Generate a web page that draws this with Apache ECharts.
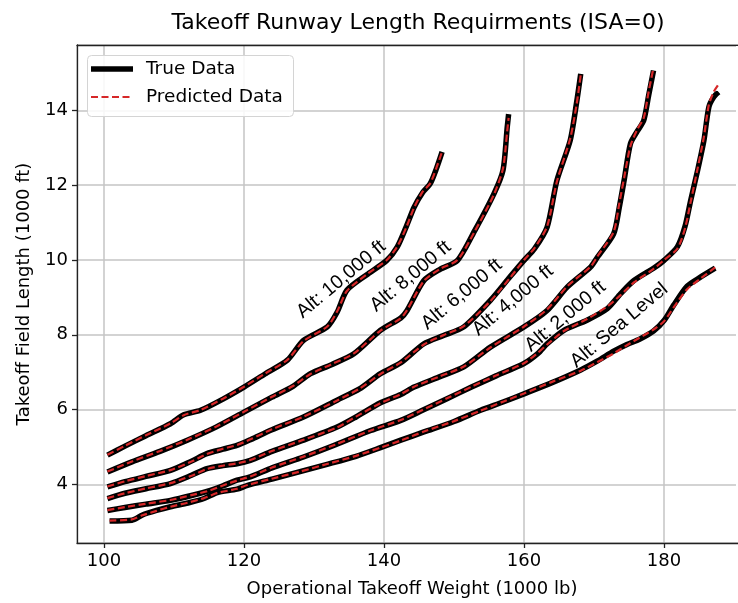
<!DOCTYPE html>
<html>
<head>
<meta charset="utf-8">
<script src="https://cdn.jsdelivr.net/npm/echarts@6/dist/echarts.min.js"></script>
<style>
  html, body { margin: 0; padding: 0; background: #fff; overflow: hidden; }
  #chart { width: 738px; height: 603px; }
</style>
</head>
<body>
<div id="chart"></div>
<script>
// Takeoff field length (1000 ft) against operational takeoff weight (1000 lb), ISA = 0

// Sea level
const seaX = [100.8, 104.0, 105.5, 107.5, 109.5, 112.0, 114.3, 116.2, 119.0, 120.5, 124.0, 128.0, 132.0, 136.0, 139.5, 142.4, 145.7, 150.0, 153.8, 157.0, 160.0, 164.0, 168.1, 170.5, 172.8, 174.7, 176.5, 178.5, 180.0, 181.4, 183.3, 185.2, 187.3];
const seaTrue = [3.02, 3.04, 3.18, 3.30, 3.40, 3.50, 3.62, 3.78, 3.87, 3.97, 4.14, 4.34, 4.54, 4.75, 4.98, 5.18, 5.40, 5.68, 5.98, 6.20, 6.42, 6.72, 7.06, 7.30, 7.56, 7.74, 7.88, 8.10, 8.38, 8.80, 9.30, 9.54, 9.78];
const seaPred = [3.03, 3.06, 3.17, 3.29, 3.40, 3.51, 3.63, 3.77, 3.88, 3.98, 4.15, 4.34, 4.55, 4.76, 4.98, 5.17, 5.41, 5.69, 5.97, 6.21, 6.43, 6.74, 7.04, 7.27, 7.50, 7.72, 7.92, 8.14, 8.36, 8.74, 9.22, 9.50, 9.80];

// 2,000 ft
const alt2X = [100.5, 103.0, 106.0, 109.5, 112.5, 115.2, 117.0, 119.0, 120.9, 124.0, 128.5, 133.0, 138.1, 142.4, 145.5, 149.0, 152.5, 156.0, 160.0, 162.0, 163.3, 165.7, 169.0, 171.9, 173.8, 175.7, 178.5, 180.0, 181.9, 183.0, 183.8, 184.8, 185.7, 186.4, 187.1, 187.8];
const alt2True = [3.30, 3.38, 3.47, 3.57, 3.70, 3.84, 3.96, 4.11, 4.20, 4.44, 4.73, 5.05, 5.44, 5.71, 5.98, 6.29, 6.60, 6.90, 7.23, 7.50, 7.76, 8.12, 8.39, 8.70, 9.10, 9.45, 9.78, 9.99, 10.35, 10.90, 11.59, 12.40, 13.20, 14.09, 14.36, 14.49];
const alt2Pred = [3.31, 3.39, 3.48, 3.58, 3.71, 3.84, 3.97, 4.10, 4.21, 4.45, 4.74, 5.06, 5.44, 5.72, 5.99, 6.30, 6.61, 6.91, 7.24, 7.52, 7.74, 8.10, 8.42, 8.76, 9.06, 9.40, 9.76, 10.00, 10.30, 10.85, 11.55, 12.45, 13.30, 14.15, 14.50, 14.70];

// 4,000 ft
const alt4X = [100.5, 103.0, 106.0, 109.5, 112.5, 114.7, 117.0, 119.0, 120.9, 124.0, 128.5, 133.3, 136.0, 139.5, 142.4, 144.3, 148.0, 151.4, 155.2, 160.0, 163.3, 166.2, 169.5, 170.5, 172.8, 173.6, 174.3, 175.2, 176.2, 177.1, 177.8, 178.5];
const alt4True = [3.62, 3.76, 3.88, 4.02, 4.24, 4.42, 4.50, 4.55, 4.64, 4.88, 5.18, 5.53, 5.80, 6.18, 6.40, 6.60, 6.88, 7.14, 7.67, 8.21, 8.65, 9.28, 9.81, 10.08, 10.70, 11.40, 12.13, 13.11, 13.45, 13.73, 14.40, 15.07];
const alt4Pred = [3.63, 3.76, 3.89, 4.03, 4.23, 4.41, 4.50, 4.56, 4.65, 4.89, 5.19, 5.52, 5.81, 6.17, 6.41, 6.61, 6.89, 7.15, 7.66, 8.22, 8.68, 9.30, 9.82, 10.10, 10.75, 11.50, 12.20, 13.05, 13.50, 13.80, 14.50, 15.15];

// 6,000 ft
const alt6X = [100.5, 103.0, 106.0, 109.5, 112.5, 114.7, 117.0, 119.0, 121.0, 124.0, 128.5, 133.3, 136.5, 139.5, 142.4, 145.7, 148.5, 151.4, 155.2, 158.0, 160.0, 161.5, 163.3, 164.7, 166.6, 167.5, 168.1];
const alt6True = [3.93, 4.07, 4.21, 4.37, 4.62, 4.82, 4.94, 5.04, 5.20, 5.46, 5.80, 6.25, 6.55, 6.96, 7.25, 7.76, 7.98, 8.21, 8.92, 9.55, 9.99, 10.30, 10.88, 12.13, 13.20, 14.20, 14.98];
const alt6Pred = [3.94, 4.08, 4.22, 4.38, 4.61, 4.81, 4.95, 5.05, 5.21, 5.47, 5.81, 6.24, 6.56, 6.95, 7.26, 7.74, 7.99, 8.23, 8.90, 9.52, 10.00, 10.32, 10.90, 12.10, 13.25, 14.15, 14.95];

// 8,000 ft
const alt8X = [100.5, 104.0, 108.0, 111.9, 116.0, 120.0, 124.0, 127.0, 129.5, 132.5, 135.7, 139.5, 142.4, 143.3, 145.7, 148.0, 150.5, 153.0, 155.7, 157.0, 157.6, 157.8];
const alt8True = [4.33, 4.60, 4.88, 5.18, 5.53, 5.93, 6.33, 6.62, 6.96, 7.20, 7.49, 8.12, 8.45, 8.65, 9.45, 9.75, 9.99, 10.80, 11.77, 12.40, 13.55, 13.90];
const alt8Pred = [4.34, 4.61, 4.89, 5.19, 5.54, 5.94, 6.34, 6.63, 6.95, 7.21, 7.50, 8.11, 8.44, 8.66, 9.44, 9.76, 10.00, 10.78, 11.75, 12.45, 13.45, 13.80];

// 10,000 ft
const alt10X = [100.5, 103.0, 106.0, 109.5, 111.4, 113.8, 117.0, 120.0, 123.0, 126.2, 128.5, 131.9, 133.3, 134.7, 137.5, 140.4, 141.9, 143.2, 144.3, 145.5, 146.6, 147.5, 148.3];
const alt10True = [4.78, 5.02, 5.30, 5.62, 5.86, 5.98, 6.28, 6.60, 6.95, 7.32, 7.85, 8.21, 8.60, 9.19, 9.60, 9.99, 10.35, 10.90, 11.41, 11.80, 12.04, 12.45, 12.89];
const alt10Pred = [4.79, 5.03, 5.31, 5.63, 5.85, 5.99, 6.29, 6.61, 6.96, 7.33, 7.83, 8.22, 8.62, 9.17, 9.61, 10.00, 10.36, 10.88, 11.40, 11.82, 12.05, 12.47, 12.90];

// Curve annotations: text and anchor point (weight, field length)
const altLabels = ['Alt: 10,000 ft', 'Alt: 8,000 ft', 'Alt: 6,000 ft', 'Alt: 4,000 ft', 'Alt: 2,000 ft', 'Alt: Sea Level'];
const labelX = [133.9, 143.8, 151.1, 158.4, 165.9, 173.6];
const labelY = [9.48, 9.56, 9.08, 8.92, 8.49, 8.25];

// Legend entries
const legendNames = ['True Data', 'Predicted Data'];

const curves = [
  [seaX, seaTrue, seaPred],
  [alt2X, alt2True, alt2Pred],
  [alt4X, alt4True, alt4Pred],
  [alt6X, alt6True, alt6Pred],
  [alt8X, alt8True, alt8Pred],
  [alt10X, alt10True, alt10Pred]
];

const pairs = (xs, ys) => xs.map((x, i) => [x, ys[i]]);

const FONT = 'DejaVu Sans';
const BLACK_W = 5.5;
const RED = '#d62728';
const RED_DASH = [7, 3.5];

const series = [];
curves.forEach(([xs, yt]) => {
  series.push({
    name: legendNames[0], type: 'line', data: pairs(xs, yt),
    showSymbol: false, symbol: 'none', smooth: 0.25, z: 2,
    lineStyle: { color: '#000000', width: BLACK_W, cap: 'butt', join: 'round' }
  });
});
curves.forEach(([xs, , yp]) => {
  series.push({
    name: legendNames[1], type: 'line', data: pairs(xs, yp),
    showSymbol: false, symbol: 'none', smooth: 0.25, z: 3,
    lineStyle: { color: RED, width: 2.2, type: RED_DASH }
  });
});
series.push({
  type: 'scatter', symbolSize: 0, silent: true, z: 5,
  itemStyle: { opacity: 1 },
  data: altLabels.map((t, i) => ({ value: [labelX[i], labelY[i]], name: t })),
  label: {
    show: true, position: 'inside', rotate: 40, formatter: p => p.name,
    fontFamily: 'Liberation Sans', fontSize: 19.5, color: '#000'
  }
});

const axisText = { fontFamily: FONT, fontSize: 18, color: '#000' };
const spine = { color: '#222', width: 1.3 };
const gridLine = { color: '#c4c4c4', width: 1.5 };

const chart = echarts.init(document.getElementById('chart'), null, { renderer: 'canvas' });
chart.setOption({
  animation: false,
  backgroundColor: '#ffffff',
  title: {
    text: 'Takeoff Runway Length Requirments (ISA=0)',
    left: 413, top: 7, textAlign: 'center',
    textStyle: { fontFamily: FONT, fontWeight: 'normal', fontSize: 22, color: '#000' }
  },
  grid: {
    left: 77, top: 45, right: -9, bottom: 60,
    outerBoundsMode: 'none', show: false
  },
  xAxis: [{
    type: 'value', min: 96.15, max: 191.85, splitNumber: 5, position: 'bottom',
    name: 'Operational Takeoff Weight (1000 lb)', nameLocation: 'middle', nameGap: 37,
    nameTextStyle: axisText,
    axisLine: { show: true, onZero: false, lineStyle: spine },
    axisTick: { show: true, inside: false, length: 5, lineStyle: spine },
    axisLabel: Object.assign({ showMinLabel: false, showMaxLabel: false, margin: 9 }, axisText),
    splitLine: { show: true, lineStyle: gridLine }
  }, {
    // top frame edge
    type: 'value', min: 96.15, max: 191.85, position: 'top',
    axisLine: { show: true, onZero: false, lineStyle: spine },
    axisTick: { show: false }, axisLabel: { show: false }, splitLine: { show: false }
  }],
  yAxis: {
    type: 'value', min: 2.43, max: 15.75, splitNumber: 7,
    name: 'Takeoff Field Length (1000 ft)', nameLocation: 'middle', nameGap: 44,
    nameTextStyle: axisText,
    axisLine: { show: true, onZero: false, lineStyle: spine },
    axisTick: { show: true, inside: false, length: 5, lineStyle: spine },
    axisLabel: Object.assign({ showMinLabel: false, showMaxLabel: false, margin: 9 }, axisText),
    splitLine: { show: true, lineStyle: gridLine }
  },
  graphic: [
    { type: 'rect', left: 87, top: 55, z: 20,
      shape: { width: 206, height: 61, r: 4 },
      style: { fill: 'rgba(255,255,255,0.85)', stroke: '#d4d4d4', lineWidth: 1 } },
    { type: 'line', z: 21, shape: { x1: 91, y1: 69, x2: 133, y2: 69 },
      style: { stroke: '#000', lineWidth: BLACK_W } },
    { type: 'line', z: 21, shape: { x1: 91, y1: 97, x2: 133, y2: 97 },
      style: { stroke: RED, lineWidth: 2.2, lineDash: RED_DASH } },
    { type: 'text', z: 21, x: 146, y: 69,
      style: { text: legendNames[0], fontFamily: FONT, fontSize: 18.5, fill: '#000', verticalAlign: 'middle' } },
    { type: 'text', z: 21, x: 146, y: 97,
      style: { text: legendNames[1], fontFamily: FONT, fontSize: 18.5, fill: '#000', verticalAlign: 'middle' } },
    // plain margin strip at the right edge of the canvas
    { type: 'rect', z: 30, shape: { x: 736, y: 46, width: 4, height: 496 },
      style: { fill: '#ffffff' } }
  ],
  series: series
});
</script>
</body>
</html>
